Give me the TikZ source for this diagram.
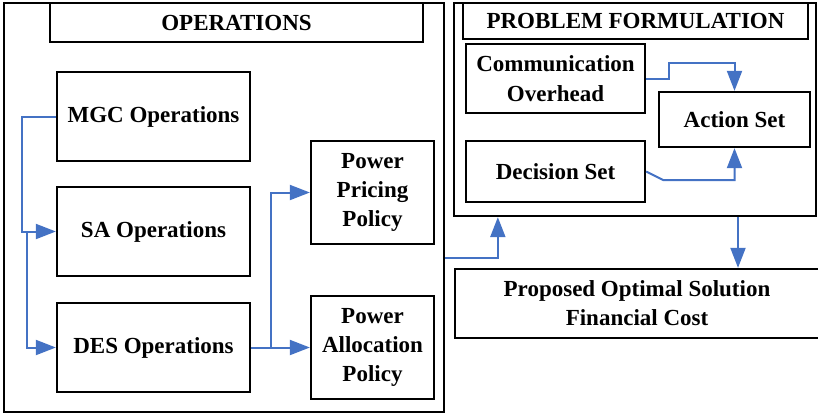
\documentclass[tikz,border=0pt]{standalone}
\usepackage{fontspec}
\setmainfont{Liberation Serif}
\usetikzlibrary{arrows.meta}
\definecolor{flowblue}{RGB}{68,114,196}
\begin{document}
\begin{tikzpicture}[x=1pt,y=-1pt,
  box/.style={draw=black, line width=2.3pt, rectangle, inner sep=0pt, align=center,
              font=\fontsize{23}{29}\selectfont\bfseries},
  flow/.style={draw=flowblue, line width=2pt, -{Triangle[length=20pt,width=15pt]}}]
\useasboundingbox (0,0) rectangle (818,416);
\clip (0,0) rectangle (818,416);

% Operations frame
\node[box, minimum width=440pt, minimum height=409pt] (ops) at (224,207.5) {};
\node[box, minimum width=373pt, minimum height=39pt] (opstitle) at (236.5,22.5) {OPERATIONS};
\node[box, minimum width=193pt, minimum height=89pt] (mgc) at (153.5,116.5) {MGC Operations};
\node[box, minimum width=193pt, minimum height=89pt] (sa) at (153.5,231.5) {SA Operations};
\node[box, minimum width=193pt, minimum height=89pt] (des) at (153.5,347.5) {DES Operations};
\node[box, minimum width=123pt, minimum height=103pt] (ppp) at (372.5,192.5) {Power\\Pricing\\Policy};
\node[box, minimum width=123pt, minimum height=103pt] (pap) at (372.5,347.5) {Power\\Allocation\\Policy};

% Problem formulation frame
\node[box, minimum width=362pt, minimum height=213pt] (pf) at (635,109.5) {};
\node[box, minimum width=345pt, minimum height=36pt] (pftitle) at (635.5,21) {PROBLEM FORMULATION};
\node[box, minimum width=179pt, minimum height=69pt, font=\fontsize{23}{30}\selectfont\bfseries] (comm) at (555.5,78.5) {Communication\\Overhead};
\node[box, minimum width=151pt, minimum height=55pt] (action) at (734.5,119.5) {Action Set};
\node[box, minimum width=179pt, minimum height=61pt] (decision) at (555.5,171.5) {Decision Set};

% Result
\node[box, minimum width=364pt, minimum height=69pt] (proposed) at (637,303.5) {Proposed Optimal Solution\\Financial Cost};

% Flows inside the operations frame
\draw[flow] (mgc.west) -- ++(-34,0) |- (sa.west);
\draw[flow] ([xshift=-29pt]sa.west) |- (des.west);
\draw[flow] (des.east) -- ++(20,0) |- (ppp.west);
\draw[flow] (des.east) -- (pap.west);

% Flows between the frames
\draw[flow] ([yshift=-50.5pt]ops.east) -| ([xshift=45pt]pf.south west);
\draw[flow] ([xshift=103pt]pf.south) -- ([xshift=103pt]pf.south |- proposed.north);

% Flows inside the problem formulation frame
\draw[flow] (comm.east) -- ++(23,0) -- ++(0,-16) -| (action.north);
\draw[flow] (decision.east) -- ++(17,8.5) -| (action.south);
\end{tikzpicture}
\end{document}
